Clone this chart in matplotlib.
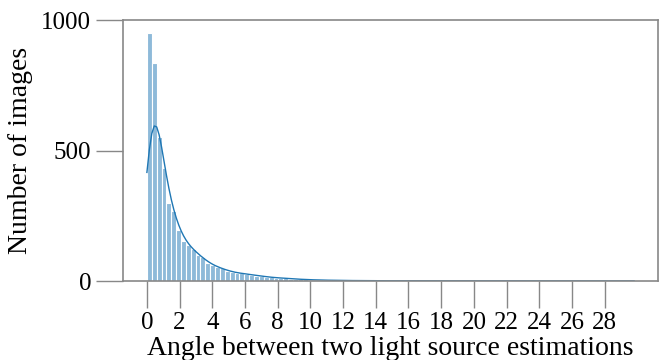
import matplotlib
matplotlib.use("Agg")
import matplotlib.pyplot as plt
import numpy as np
import pandas as pd
import seaborn as sns

# histogram: 100 bins between 0 and 29.8 degrees
x_min = 0.0
x_max = 29.8
n_bins = 100
counts = [951, 834, 553, 434, 300, 268, 194, 153, 138, 123,
          100, 91, 70, 61, 52, 49, 40, 34, 30, 30,
          27, 24, 21, 19, 17, 14, 11, 13, 10, 9,
          8, 6, 6, 5, 4, 4, 3, 3, 3, 2,
          2, 2, 2, 1, 2, 1, 1, 1, 1, 1,
          1, 1, 1, 0, 1, 1, 0, 1, 0, 1,
          1, 0, 0, 1, 0, 1, 0, 0, 1, 0,
          0, 1, 0, 0, 0, 1, 0, 0, 0, 0,
          1, 0, 0, 0, 0, 0, 1, 0, 0, 0,
          0, 0, 0, 0, 1, 0, 0, 0, 0, 1]
x_ticks = list(range(0, 30, 2))
y_ticks = [0, 500, 1000]
x_label = "Angle between two light source estimations"
y_label = "Number of images"

plt.rcParams['font.family'] = ['Liberation Serif', 'DejaVu Serif']
plt.rcParams['font.size'] = 18

edges = np.linspace(x_min, x_max, n_bins + 1)
df = pd.DataFrame({'angle': (edges[:-1] + edges[1:]) / 2, 'count': counts})

fig = plt.figure(figsize=(6.66, 3.6), dpi=100)
ax = fig.add_axes([0.184, 0.2194, 0.8047, 0.725])

sns.histplot(data=df, x='angle', weights='count', bins=n_bins,
             binrange=(x_min, x_max), kde=True,
             kde_kws={'bw_adjust': 0.3, 'cut': 1, 'clip': (x_min, x_max)},
             color='#1f77b4', alpha=0.5, edgecolor='white', linewidth=0.8,
             line_kws={'linewidth': 1, 'color': '#3a88c5'}, ax=ax)

ax.set_xlim(x_min - 0.05 * x_max, x_max * 1.05)
ax.set_ylim(0, 1000)
ax.set_xticks(x_ticks)
ax.set_yticks(y_ticks)
ax.set_xlabel(x_label, fontsize=20, labelpad=1)
ax.set_ylabel(y_label, fontsize=20, labelpad=6)
ax.tick_params(length=19.5, width=1, color='#888888', pad=3)
for s in ax.spines.values():
    s.set_color('#888888')
    s.set_linewidth(1.2)

fig.savefig("out.png", dpi=100)
